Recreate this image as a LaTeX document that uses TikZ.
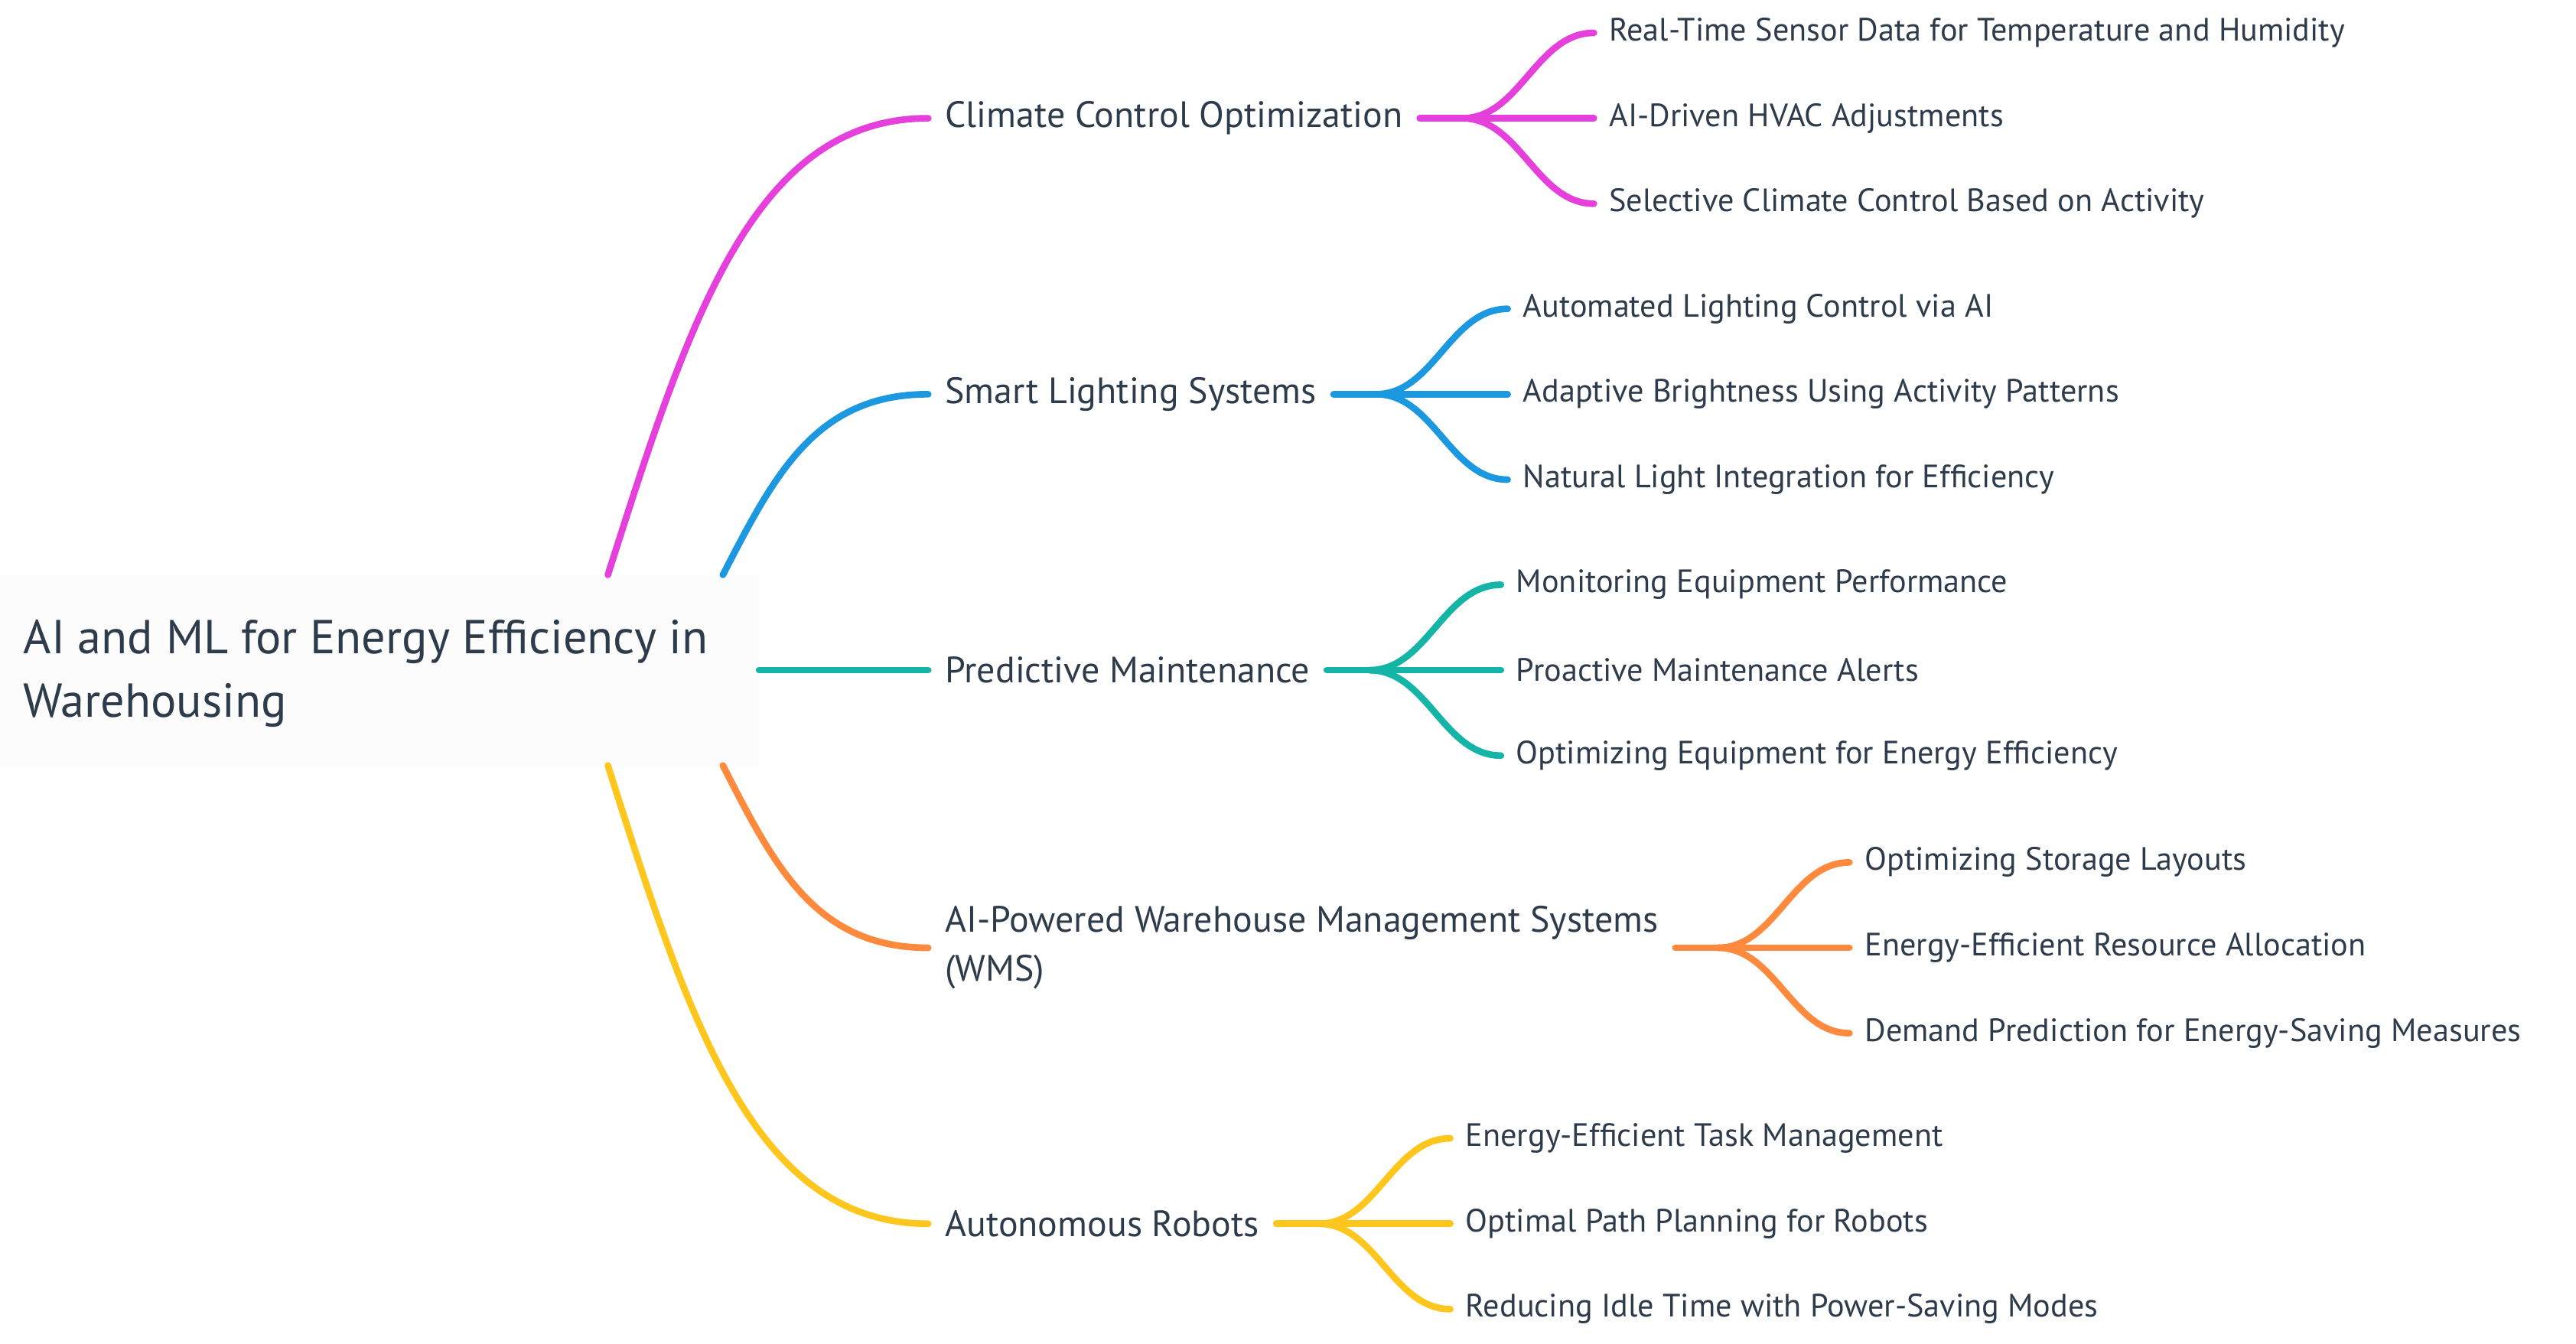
\documentclass[tikz,border=0pt]{standalone}
\usepackage{fontspec}
\setmainfont{PT Sans}
\usepackage{tikz}
\usetikzlibrary{positioning}
\definecolor{ink}{HTML}{2D3B4A}
\definecolor{mag}{HTML}{E53FDC}
\definecolor{sky}{HTML}{1C98E0}
\definecolor{sea}{HTML}{14B5A6}
\definecolor{tan}{HTML}{FF8A3D}
\definecolor{sun}{HTML}{FFC61E}
\definecolor{rootbg}{HTML}{FCFCFC}
\tikzset{
  root/.style={anchor=west,align=left,text=ink,inner sep=0pt,font=\fontsize{16.5}{22}\selectfont},
  branch/.style={anchor=west,align=left,text=ink,inner xsep=0.2cm,inner ysep=0pt,font=\fontsize{12.7}{17}\selectfont},
  leaf/.style={anchor=west,text=ink,inner xsep=0.18cm,inner ysep=0pt,font=\fontsize{11.2}{12}\selectfont},
  link/.style={line width=2.3pt,line cap=round}
}
\begin{document}
\begin{tikzpicture}[x=0.02cm,y=-0.02cm]
\useasboundingbox (0,0) rectangle (1568,818);
\fill[rootbg] (0,350) rectangle (462,466);
\node[root] (root) at (14,410) {AI and ML for Energy Efficiency in\\Warehousing};
%\draw[red] (root.south west) rectangle (root.north east);
\foreach \n/\y/\c/\sx/\sy/\t/\la/\lb/\lc in {
  cco/72/mag/370/350/Climate Control Optimization/Real-Time Sensor Data for Temperature and Humidity/AI-Driven HVAC Adjustments/Selective Climate Control Based on Activity,
  sls/240/sky/440/350/Smart Lighting Systems/Automated Lighting Control via AI/Adaptive Brightness Using Activity Patterns/Natural Light Integration for Efficiency,
  pm/408/sea/462/408/Predictive Maintenance/Monitoring Equipment Performance/Proactive Maintenance Alerts/Optimizing Equipment for Energy Efficiency,
  wms/577/tan/440/466/AI-Powered Warehouse Management Systems\\(WMS)/Optimizing Storage Layouts/Energy-Efficient Resource Allocation/Demand Prediction for Energy-Saving Measures,
  ar/745/sun/370/466/Autonomous Robots/Energy-Efficient Task Management/Optimal Path Planning for Robots/Reducing Idle Time with Power-Saving Modes}
{
  \node[branch] (\n) at (565,\y) {\t};
  \coordinate (\n-s) at (\sx,\sy);
  \draw[link,\c] (\n-s) .. controls ({\sx+0.25*(565-\sx)},{\sy+0.55*(\y-\sy)}) and ({\sx+0.45*(565-\sx)},\y) .. (\n.west);
  \coordinate (\n-j) at ([xshift=0.52cm]\n.east);
  \draw[link,\c] (\n.east) -- (\n-j);
  \node[leaf] (\n-1) at ([xshift=1.6cm,yshift=1.04cm]\n-j) {\la};
  \node[leaf] (\n-2) at ([xshift=1.6cm]\n-j) {\lb};
  \node[leaf] (\n-3) at ([xshift=1.6cm,yshift=-1.04cm]\n-j) {\lc};
  \foreach \k in {1,2,3}
    \draw[link,\c] (\n-j) .. controls +(0.7cm,0) and +(-0.7cm,0) .. (\n-\k.west);
}
\end{tikzpicture}
\end{document}
